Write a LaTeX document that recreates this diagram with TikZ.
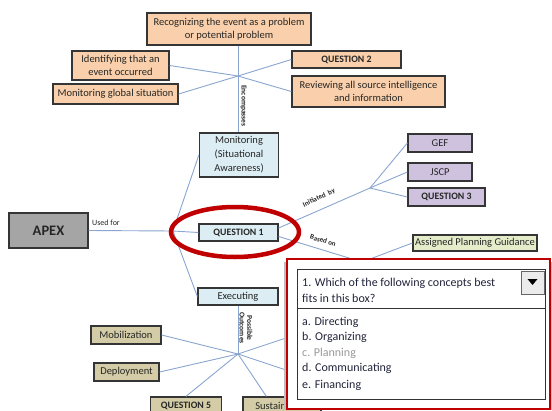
\documentclass[tikz,border=0pt]{standalone}
\usepackage{fontspec}
\setmainfont{Carlito}
\usetikzlibrary{calc}
\definecolor{peach}{HTML}{F9D0AB}
\definecolor{lblue}{HTML}{DCEEF4}
\definecolor{lpurple}{HTML}{CEC2DE}
\definecolor{lgreen}{HTML}{E5ECC9}
\definecolor{khaki}{HTML}{D3CCA6}
\definecolor{apexgray}{HTML}{A5A5A5}
\definecolor{conn}{HTML}{8AA6D0}
\definecolor{boxline}{HTML}{353535}
\definecolor{ringred}{HTML}{C00000}
\definecolor{qtext}{HTML}{22243A}
\tikzset{
  box/.style={draw=boxline, line width=1.3pt, inner sep=1pt, align=center,
    font=\fontsize{10.5}{13}\selectfont, text=black!85},
  qbold/.style={font=\fontsize{9.8}{11}\selectfont\bfseries},
  orangebox/.style={box, fill=peach},
  bluebox/.style={box, fill=lblue},
  purplebox/.style={box, fill=lpurple},
  greenbox/.style={box, fill=lgreen},
  khakibox/.style={box, fill=khaki},
  conline/.style={draw=conn, line width=0.9pt},
  lbl/.style={font=\fontsize{7.5}{7.5}\selectfont, text=black!85, inner sep=1pt},
  opt/.style={anchor=west, font=\fontsize{12}{13}\selectfont, text=qtext, inner sep=0pt}
}
\begin{document}
\begin{tikzpicture}[x=1pt, y=-1pt]
\useasboundingbox[fill=white] (0,0) rectangle (552,410);

% hubs
\coordinate (hubE) at (238,76);
\coordinate (hub1) at (173,231);
\coordinate (hubI) at (370,188);
\coordinate (hubB) at (362,262);
\coordinate (hub2) at (238,354);
\coordinate (hidA) at (310,330);
\coordinate (hidB) at (310,378);

% nodes
\node[orangebox, minimum width=164pt, minimum height=32pt] (rec) at (229,29) {Recognizing the event as a problem\\or potential problem};
\node[orangebox, minimum width=97pt, minimum height=29pt] (ident) at (120.5,65.5) {Identifying that an\\event occurred};
\node[orangebox, minimum width=125pt, minimum height=20pt] (mongl) at (115.5,94) {Monitoring global situation};
\node[orangebox, qbold, minimum width=109pt, minimum height=17pt] (q2) at (346.5,59.5) {QUESTION 2};
\node[orangebox, minimum width=153pt, minimum height=31pt] (rev) at (368.5,91.5) {Reviewing all source intelligence\\and information};
\node[bluebox, minimum width=79pt, minimum height=44pt, font=\fontsize{10.5}{14}\selectfont] (mon) at (239,155) {Monitoring\\(Situational\\Awareness)};
\node[box, fill=apexgray, minimum width=79pt, minimum height=35pt, font=\fontsize{14.5}{16}\selectfont\bfseries] (apex) at (48.5,230.5) {APEX};
\node[bluebox, qbold, minimum width=79pt, minimum height=17pt] (q1) at (238.5,232.5) {QUESTION 1};
\node[bluebox, minimum width=80pt, minimum height=17pt] (exe) at (238,296.5) {Executing};
\node[purplebox, minimum width=64pt, minimum height=18pt] (gef) at (440,143) {GEF};
\node[purplebox, minimum width=64pt, minimum height=18pt] (jscp) at (440,172) {JSCP};
\node[purplebox, qbold, minimum width=77pt, minimum height=18pt] (q3) at (446.5,197) {QUESTION 3};
\node[greenbox, minimum width=124pt, minimum height=16pt] (apg) at (475,243) {Assigned Planning Guidance};
\node[khakibox, minimum width=70pt, minimum height=18pt] (mob) at (126,335) {Mobilization};
\node[khakibox, minimum width=65pt, minimum height=18pt] (dep) at (126.5,372) {Deployment};
\node[khakibox, qbold, minimum width=71pt, minimum height=18pt] (q5) at (186,406) {QUESTION 5};
\node[khakibox, minimum width=78pt, minimum height=18pt] (sus) at (282,406) {Sustainment};

% connectors
\draw[conline] (rec.south -| hubE) -- (mon.north -| hubE);
\draw[conline] (hubE) -- (ident.east);
\draw[conline] (hubE) -- (mongl.east);
\draw[conline] (hubE) -- (q2.west);
\draw[conline] (hubE) -- (rev.west);
\draw[conline] (apex.east) -- (hub1);
\draw[conline] (hub1) -- (mon.west);
\draw[conline] (hub1) -- (q1.west);
\draw[conline] (hub1) -- (exe.west);
\draw[conline] ([yshift=4.5pt]q1.east) -- (hubI);
\draw[conline] (hubI) -- (gef.west);
\draw[conline] (hubI) -- (jscp.west);
\draw[conline] (hubI) -- (q3.west);
\draw[conline] ([yshift=-4pt]q1.east) -- (hubB);
\draw[conline] (hubB) -- (apg.west);
\draw[conline] (exe.south) -- (hub2);
\draw[conline] (hub2) -- (mob.east);
\draw[conline] (hub2) -- (dep.east);
\draw[conline] (hub2) -- (q5.north);
\draw[conline] (hub2) -- ($(sus.north west)+(24,0)$);
\draw[conline] (hub2) -- (hidA);
\draw[conline] (hub2) -- (hidB);

% labels
\node[lbl, rotate=-90, font=\fontsize{7.5}{7.5}\selectfont\bfseries] (enc) at (243.5,106) {Encompasses};
\node[lbl, font=\fontsize{8}{8}\selectfont] (usedfor) at (106,222.5) {Used for};
\node[lbl, rotate=25, font=\fontsize{7}{7}\selectfont\bfseries] (init) at (319,198) {Initiated\ \ by};
\node[lbl, rotate=-17, font=\fontsize{7}{7}\selectfont\bfseries] (based) at (323,240.5) {Based on};
\node[lbl, rotate=-90, align=center, font=\fontsize{7.5}{7.5}\selectfont\bfseries] (poss) at (246,328) {Possible\\Outcomes};

% red ring
\draw[ringred, line width=4.5pt] (235,232) ellipse [x radius=64pt, y radius=25pt];

% popup
\fill[black!25] (284,262) rectangle (552,410);
\draw[ringred, line width=2pt, fill=white] (287,259) rectangle (550,409);
\draw[black!80, line width=0.8pt] (297,269) rectangle (545,399);
\draw[black!80, line width=0.8pt] (297,308) -- (545,308);
\draw[black!60, fill=black!8, line width=0.6pt] (521,271) rectangle (544,294);
\fill[black] (527.5,279) -- (537.5,279) -- (532.5,285) -- cycle;
\node[opt] (qline1) at (302,283) {1. Which of the following concepts best};
\node[opt] (qline2) at (302,298.5) {fits in this box?};
\node[opt] (oa) at (302,322) {a. Directing};
\node[opt] (ob) at (302,337.5) {b. Organizing};
\node[opt, text=black!40] (oc) at (302,353) {c. Planning};
\node[opt] (od) at (302,368.5) {d. Communicating};
\node[opt] (oe) at (302,385) {e. Financing};
\end{tikzpicture}
\end{document}
